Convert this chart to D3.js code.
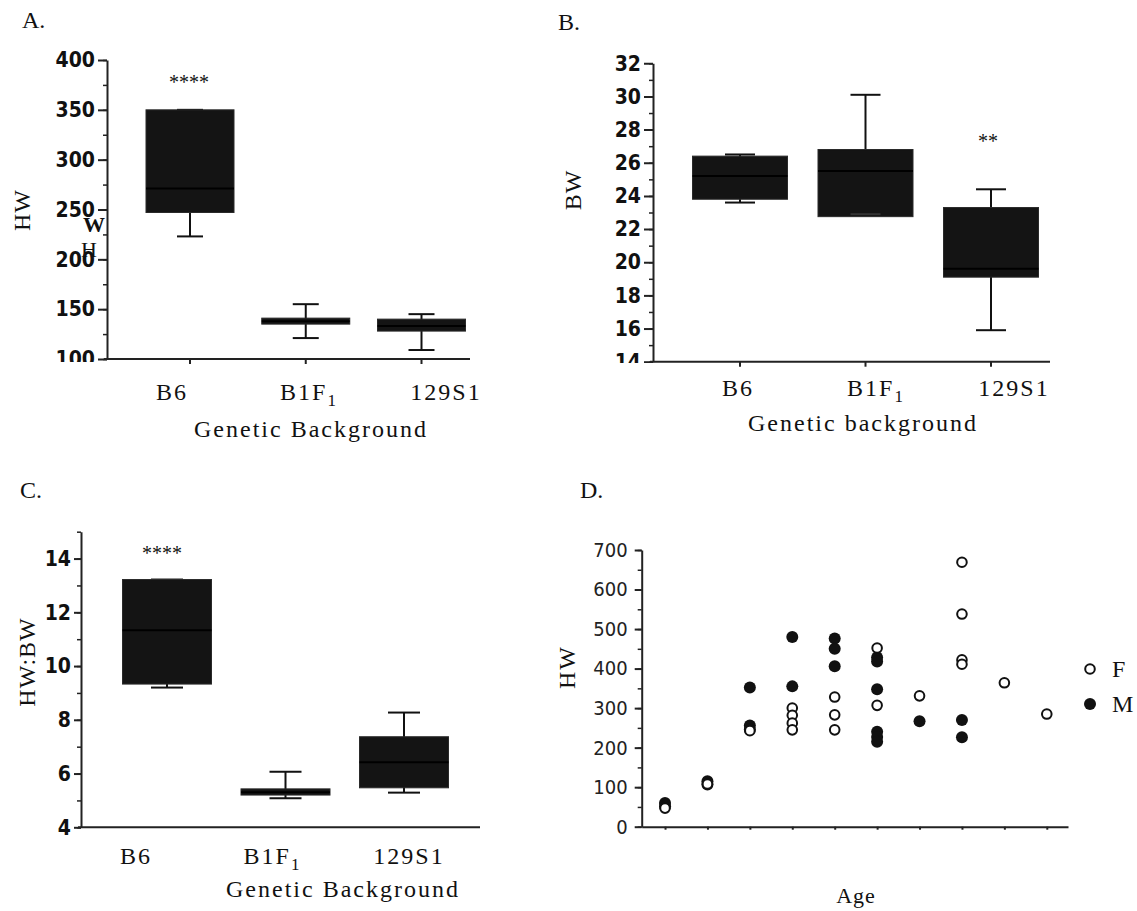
<!DOCTYPE html>
<html>
<head>
<meta charset="utf-8">
<script src="https://cdn.jsdelivr.net/npm/d3@7"></script>
<style>
  body { margin: 0; background: #fff; }
  svg { display: block; }
  .serif { font-family: "Liberation Serif", "DejaVu Serif", serif; fill: #111; }
  .tick-bold { font-family: "Liberation Sans Narrow", "DejaVu Sans Condensed", sans-serif; font-weight: bold; font-size: 21px; fill: #111; }
  .tick-plain { font-family: "DejaVu Sans Condensed", "Liberation Sans Narrow", sans-serif; font-size: 20px; fill: #222; }
</style>
</head>
<body>
<svg id="svg" width="1137" height="911"></svg>
<script>
/* global d3 */

const strains = ["B6", "B1F1", "129S1"];

// panel A: heart weight
const hwMin = [223, 121, 109];
const hwQ1 = [247, 135, 128];
const hwMed = [271, 138, 133];
const hwQ3 = [350, 141, 140];
const hwMax = [350, 155, 145];

// panel B: body weight
const bwMin = [23.6, 22.9, 15.9];
const bwQ1 = [23.8, 22.75, 19.1];
const bwMed = [25.2, 25.5, 19.6];
const bwQ3 = [26.4, 26.8, 23.3];
const bwMax = [26.5, 30.1, 24.4];

// panel C: HW:BW ratio
const ratioMin = [9.2, 5.08, 5.29];
const ratioQ1 = [9.33, 5.2, 5.47];
const ratioMed = [11.33, 5.3, 6.42];
const ratioQ3 = [13.22, 5.43, 7.37];
const ratioMax = [13.22, 6.07, 8.27];

// panel D: HW by age group (1..10), female / male
const femaleAge = [1, 2, 3, 4, 4, 4, 4, 5, 5, 5, 6, 6, 7, 8, 8, 8, 8, 9, 10];
const femaleHW = [47, 108, 243, 300, 282, 262, 245, 328, 283, 245, 452, 307, 331, 669, 538, 422, 411, 364, 285];
const maleAge = [1, 1, 2, 2, 3, 3, 3, 4, 4, 5, 5, 5, 6, 6, 6, 6, 6, 6, 7, 8, 8];
const maleHW = [60, 52, 115, 107, 352, 256, 246, 480, 355, 476, 450, 406, 428, 418, 348, 240, 227, 215, 267, 270, 226];

const svg = d3.select("#svg");

const drawStrainLabel = (g, name, x, y) => {
  const t = g.append("text")
    .attr("class", "serif")
    .attr("x", x)
    .attr("y", y)
    .attr("text-anchor", "middle")
    .style("font-size", "24px")
    .style("letter-spacing", "2px");
  if (name === "B1F1") {
    t.append("tspan").text("B1F");
    t.append("tspan").attr("dy", 6).style("font-size", "17px").text("1");
  } else {
    t.text(name);
  }
};

const boxPanel = cfg => {
  const g = svg.append("g");
  const y = d3.scaleLinear().domain(cfg.yDomain).range([cfg.yBottom, cfg.yTop]);
  const x = d3.scalePoint().domain(strains).range(cfg.xRange);
  const xl = d3.scalePoint().domain(strains).range(cfg.labelRange);

  const rows = strains.map((s, i) => ({
    name: s,
    min: cfg.min[i], q1: cfg.q1[i], med: cfg.med[i], q3: cfg.q3[i], max: cfg.max[i]
  }));

  // y axis (labels clipped at the baseline, like the source)
  const clip = "clip-" + cfg.id;
  svg.append("clipPath").attr("id", clip)
    .append("rect").attr("x", -cfg.axisX).attr("y", cfg.yTop - 30)
    .attr("width", cfg.axisX + 4).attr("height", cfg.labelClip - cfg.yTop + 30);

  g.append("g")
    .attr("transform", `translate(${cfg.axisX},0)`)
    .call(d3.axisLeft(y).tickValues(d3.range(cfg.yDomain[0], cfg.yDomain[1] + 1e-9, cfg.minorStep))
      .tickSize(4).tickFormat(""))
    .call(a => a.select(".domain").remove())
    .selectAll("line").attr("stroke", "#222").attr("stroke-width", 1.5);

  const major = g.append("g")
    .attr("transform", `translate(${cfg.axisX},0)`)
    .attr("clip-path", `url(#${clip})`)
    .call(d3.axisLeft(y).tickValues(cfg.majorTicks).tickSize(cfg.tickLen).tickPadding(3).tickSizeOuter(0));
  major.attr("font-size", null).attr("font-family", null);
  major.select(".domain").attr("stroke", "#222").attr("stroke-width", 2);
  major.selectAll("line").attr("stroke", "#222").attr("stroke-width", 2);
  major.selectAll("text").attr("class", "tick-bold").attr("fill", null);

  // x axis
  g.append("line")
    .attr("x1", cfg.axisX - 3).attr("x2", cfg.xEnd)
    .attr("y1", cfg.yBottom).attr("y2", cfg.yBottom)
    .attr("stroke", "#222").attr("stroke-width", 2);
  if (cfg.xTicks) {
    g.selectAll(".xt").data(strains).join("line")
      .attr("x1", d => x(d)).attr("x2", d => x(d))
      .attr("y1", cfg.yBottom).attr("y2", cfg.yBottom + 5)
      .attr("stroke", "#222").attr("stroke-width", 2);
  }

  // whiskers
  const bw = cfg.boxWidth;
  const cw = cfg.capWidth;
  g.selectAll(".wh").data(rows).join("line")
    .attr("x1", d => x(d.name)).attr("x2", d => x(d.name))
    .attr("y1", d => y(d.max)).attr("y2", d => y(d.min))
    .attr("stroke", "#111").attr("stroke-width", 2);
  g.selectAll(".capHi").data(rows).join("line")
    .attr("x1", d => x(d.name) - cw / 2).attr("x2", d => x(d.name) + cw / 2)
    .attr("y1", d => y(d.max)).attr("y2", d => y(d.max))
    .attr("stroke", "#111").attr("stroke-width", 2);

  // boxes
  g.selectAll(".box").data(rows).join("rect")
    .attr("x", d => x(d.name) - bw / 2)
    .attr("width", bw)
    .attr("y", d => y(d.q3))
    .attr("height", d => Math.max(2, y(d.q1) - y(d.q3)))
    .attr("fill", "#141414")
    .attr("stroke", "#2a2a2a")
    .attr("stroke-width", 1);
  g.selectAll(".capLo").data(rows).join("line")
    .attr("x1", d => x(d.name) - cw / 2).attr("x2", d => x(d.name) + cw / 2)
    .attr("y1", d => y(d.min)).attr("y2", d => y(d.min))
    .attr("stroke", d => d.min >= d.q1 ? "#333" : "#111").attr("stroke-width", 2);
  g.selectAll(".med").data(rows).join("line")
    .attr("x1", d => x(d.name) - bw / 2).attr("x2", d => x(d.name) + bw / 2)
    .attr("y1", d => y(d.med)).attr("y2", d => y(d.med))
    .attr("stroke", "#000").attr("stroke-width", 2);

  // significance stars
  g.append("text")
    .attr("class", "serif")
    .attr("x", x(cfg.starAt) + cfg.starDx)
    .attr("y", cfg.starY)
    .attr("text-anchor", "middle")
    .style("font-size", "20px")
    .text(cfg.stars);

  strains.forEach(s => drawStrainLabel(g, s, xl(s), cfg.labelY));

  g.append("text")
    .attr("class", "serif")
    .attr("x", cfg.titleX)
    .attr("y", cfg.titleY)
    .attr("text-anchor", "middle")
    .style("font-size", "24px")
    .style("letter-spacing", "2px")
    .text(cfg.xTitle);

  g.append("text")
    .attr("class", "serif")
    .attr("transform", `translate(${cfg.yTitleX},${cfg.yTitleY}) rotate(-90)`)
    .attr("text-anchor", "middle")
    .style("font-size", "24px")
    .style("letter-spacing", "1px")
    .text(cfg.yTitle);

  g.append("text")
    .attr("class", "serif")
    .attr("x", cfg.letterX)
    .attr("y", cfg.letterY)
    .style("font-size", "24px")
    .text(cfg.letter);

  return g;
};

const panelA = boxPanel({
  id: "a", letter: "A.", letterX: 22, letterY: 28,
  yDomain: [100, 400], yTop: 60, yBottom: 359, labelClip: 362,
  majorTicks: [100, 150, 200, 250, 300, 350, 400], minorStep: 25, tickLen: 9,
  axisX: 107, xEnd: 470, xRange: [190, 421.5], labelRange: [172, 446], xTicks: true,
  min: hwMin, q1: hwQ1, med: hwMed, q3: hwQ3, max: hwMax,
  boxWidth: 88, capWidth: 26,
  stars: "****", starAt: "B6", starDx: -1, starY: 89,
  labelY: 400, titleX: 311, titleY: 437, xTitle: "Genetic Background",
  yTitleX: 30, yTitleY: 210, yTitle: "HW"
});

// stray glyphs beside panel A's axis
panelA.append("text").attr("class", "serif").attr("x", 94).attr("y", 232)
  .attr("text-anchor", "middle").style("font-size", "22px").style("font-weight", "bold").text("W");
panelA.append("text").attr("class", "serif").attr("x", 89).attr("y", 257)
  .attr("text-anchor", "middle").style("font-size", "22px").text("H");

boxPanel({
  id: "b", letter: "B.", letterX: 558, letterY: 30,
  yDomain: [14, 32], yTop: 63.3, yBottom: 361.7, labelClip: 363,
  majorTicks: [14, 16, 18, 20, 22, 24, 26, 28, 30, 32], minorStep: 1, tickLen: 9,
  axisX: 653, xEnd: 1050, xRange: [740, 991], labelRange: [738, 1014], xTicks: true,
  min: bwMin, q1: bwQ1, med: bwMed, q3: bwQ3, max: bwMax,
  boxWidth: 95, capWidth: 30,
  stars: "**", starAt: "129S1", starDx: -3, starY: 148,
  labelY: 396, titleX: 863, titleY: 431, xTitle: "Genetic background",
  yTitleX: 581, yTitleY: 190, yTitle: "BW"
});

boxPanel({
  id: "c", letter: "C.", letterX: 20, letterY: 498,
  yDomain: [4, 15], yTop: 531.7, yBottom: 827.3, labelClip: 845,
  majorTicks: [4, 6, 8, 10, 12, 14], minorStep: 1, tickLen: 7,
  axisX: 81, xEnd: 480, xRange: [167, 404], labelRange: [136, 409], xTicks: false,
  min: ratioMin, q1: ratioQ1, med: ratioMed, q3: ratioQ3, max: ratioMax,
  boxWidth: 89, capWidth: 32,
  stars: "****", starAt: "B6", starDx: -5, starY: 560,
  labelY: 864, titleX: 343, titleY: 897, xTitle: "Genetic Background",
  yTitleX: 35, yTitleY: 662, yTitle: "HW:BW"
});

// panel D scatter
const gd = svg.append("g");
const xD = d3.scaleLinear().domain([0.45, 10.5]).range([641.7, 1068]);
const yD = d3.scaleLinear().domain([0, 700]).range([826.7, 550]);

gd.append("g")
  .attr("transform", "translate(641.7,0)")
  .call(d3.axisLeft(yD).tickValues(d3.range(0, 701, 50)).tickSize(4).tickFormat(""))
  .call(a => a.select(".domain").remove())
  .selectAll("line").attr("stroke", "#222").attr("stroke-width", 1.5);

const axD = gd.append("g")
  .attr("transform", "translate(641.7,0)")
  .call(d3.axisLeft(yD).tickValues(d3.range(0, 701, 100)).tickSize(7).tickPadding(7).tickSizeOuter(0));
axD.attr("font-size", null).attr("font-family", null);
axD.select(".domain").attr("stroke", "#222").attr("stroke-width", 2);
axD.selectAll("line").attr("stroke", "#222").attr("stroke-width", 2);
axD.selectAll("text").attr("class", "tick-plain").attr("fill", null);

const axDx = gd.append("g")
  .attr("transform", "translate(0,826.7)")
  .call(d3.axisBottom(xD).tickValues(d3.range(1, 11)).tickSize(3).tickFormat("").tickSizeOuter(0));
axDx.select(".domain").attr("stroke", "#222").attr("stroke-width", 2);
axDx.selectAll("line").attr("stroke", "#222").attr("stroke-width", 2);

const males = maleAge.map((a, i) => ({ age: a, hw: maleHW[i] }));
const females = femaleAge.map((a, i) => ({ age: a, hw: femaleHW[i] }));

gd.selectAll(".m").data(males).join("circle")
  .attr("cx", d => xD(d.age)).attr("cy", d => yD(d.hw)).attr("r", 6)
  .attr("fill", "#111");
gd.selectAll(".f").data(females).join("circle")
  .attr("cx", d => xD(d.age)).attr("cy", d => yD(d.hw)).attr("r", 4.8)
  .attr("fill", "#fff").attr("stroke", "#111").attr("stroke-width", 2);

// legend
const legend = gd.append("g").attr("transform", "translate(1090,669)");
legend.append("circle").attr("r", 4.8).attr("fill", "#fff").attr("stroke", "#111").attr("stroke-width", 2);
legend.append("circle").attr("cy", 35).attr("r", 6).attr("fill", "#111");
legend.append("text").attr("class", "serif").attr("x", 22).attr("y", 8).style("font-size", "24px").text("F");
legend.append("text").attr("class", "serif").attr("x", 22).attr("y", 43).style("font-size", "24px").text("M");

gd.append("text").attr("class", "serif").attr("x", 856).attr("y", 903)
  .attr("text-anchor", "middle").style("font-size", "22px").style("letter-spacing", "1px").text("Age");
gd.append("text").attr("class", "serif")
  .attr("transform", "translate(575,667) rotate(-90)")
  .attr("text-anchor", "middle").style("font-size", "24px").style("letter-spacing", "2px").text("HW");
gd.append("text").attr("class", "serif").attr("x", 580).attr("y", 498)
  .style("font-size", "24px").text("D.");
</script>
</body>
</html>
